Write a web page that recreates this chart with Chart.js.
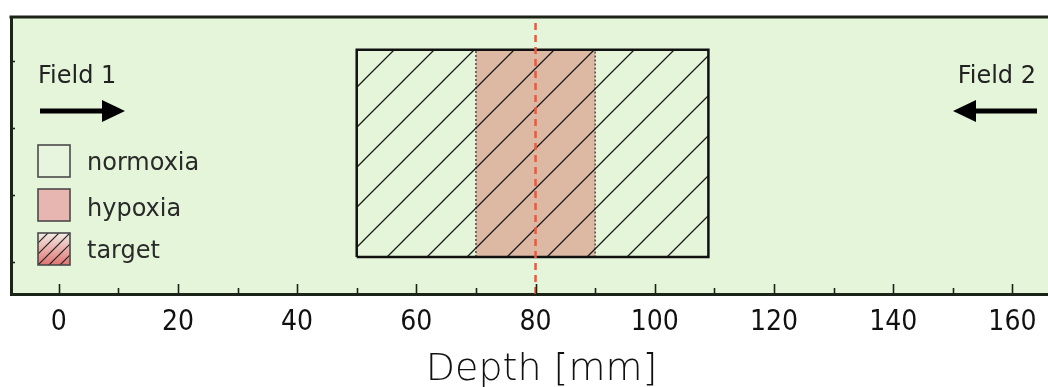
<!DOCTYPE html>
<html>
<head>
<meta charset="utf-8">
<script src="https://cdn.jsdelivr.net/npm/chart.js@4.4.0/dist/chart.umd.min.js"></script>
<style>
  html, body { margin: 0; padding: 0; background: #fff; overflow: hidden; }
  #wrap { width: 1048px; height: 387px; overflow: hidden; position: relative; }
  #box { position: absolute; left: 0; top: 0; width: 1072px; height: 387px; }
</style>
</head>
<body>
<div id="wrap"><div id="box"><canvas id="depthChart"></canvas></div></div>
<script>
// chart values
const depthRange = [-8, 170];
const heightRange = [0.52, 4.65];
const heightTicks = [1, 2, 3, 4];
const targetDepth = [50, 109];
const hypoxiaDepth = [70, 90];
const boxHeight = [1.07, 4.16];
const isocentreDepth = [80];
const fieldLabels = ['Field 1', 'Field 2'];
const legendLabels = ['normoxia', 'hypoxia', 'target'];
const axisTitle = 'Depth [mm]';

const bgGreen = '#e4f5d9';
const hypoxiaColor = '#ddb8a2';
const frameColor = '#1c2418';

// closed outline of a box in data units
function boxPoints(range) {
    return [
        { x: range[0], y: boxHeight[0] },
        { x: range[0], y: boxHeight[1] },
        { x: range[1], y: boxHeight[1] },
        { x: range[1], y: boxHeight[0] },
        { x: range[0], y: boxHeight[0] }
    ];
}

// diagonal hatch pattern
function makeHatch(size, width, color) {
    const c = document.createElement('canvas');
    c.width = size; c.height = size;
    const g = c.getContext('2d');
    g.strokeStyle = color;
    g.lineWidth = width;
    g.beginPath();
    g.moveTo(-2, size + 2); g.lineTo(size + 2, -2);
    g.moveTo(-2, 2); g.lineTo(2, -2);
    g.moveTo(size - 2, size + 2); g.lineTo(size + 2, size - 2);
    g.stroke();
    return c;
}

const ctx = document.getElementById('depthChart');
const hatchPattern = ctx.getContext('2d').createPattern(makeHatch(40, 1.3, '#1a1a1a'), 'repeat');
hatchPattern.setTransform(new DOMMatrix().translate(4, 0));

function drawArrow(c, tail, tip, y) {
    const dir = tip > tail ? 1 : -1;
    const headLen = 23, headHalf = 11;
    c.save();
    c.strokeStyle = '#000';
    c.fillStyle = '#000';
    c.lineWidth = 5;
    c.beginPath();
    c.moveTo(tail, y);
    c.lineTo(tip - dir * headLen, y);
    c.stroke();
    c.beginPath();
    c.moveTo(tip, y);
    c.lineTo(tip - dir * headLen, y - headHalf);
    c.lineTo(tip - dir * headLen, y + headHalf);
    c.closePath();
    c.fill();
    c.restore();
}

const framePlugin = {
    id: 'frame',
    beforeDraw(chart) {
        const { ctx: c, chartArea: a } = chart;
        c.save();
        c.fillStyle = bgGreen;
        c.fillRect(a.left, a.top, a.right - a.left, a.bottom - a.top);
        c.restore();
    },
    afterDraw(chart) {
        const { ctx: c, chartArea: a, scales } = chart;
        c.save();
        // top border
        c.strokeStyle = frameColor;
        c.lineWidth = 3;
        c.beginPath();
        c.moveTo(a.left - 1.5, a.top);
        c.lineTo(a.right, a.top);
        c.stroke();

        // inward tick marks
        c.lineWidth = 1.6;
        scales.x.ticks.forEach(t => {
            const px = Math.round(scales.x.getPixelForValue(t.value)) + 0.5;
            const len = t.value % 20 === 0 ? 10 : 6;
            c.beginPath();
            c.moveTo(px, a.bottom);
            c.lineTo(px, a.bottom - len);
            c.stroke();
        });
        scales.y.ticks.forEach(t => {
            const py = Math.round(scales.y.getPixelForValue(t.value)) + 0.5;
            c.beginPath();
            c.moveTo(a.left, py);
            c.lineTo(a.left + 4, py);
            c.stroke();
        });

        // field labels and arrows
        c.fillStyle = '#222';
        c.font = '24px "DejaVu Sans"';
        c.textBaseline = 'alphabetic';
        c.textAlign = 'left';
        c.fillText(fieldLabels[0], a.left + 27, a.top + 66);
        c.textAlign = 'right';
        c.fillText(fieldLabels[1], a.right - 36, a.top + 66);
        drawArrow(c, a.left + 29, a.left + 114, a.top + 94);
        drawArrow(c, a.right - 35, a.right - 119, a.top + 94);

        // legend
        const sx = a.left + 27, size = 32;
        const rows = [a.top + 128, a.top + 172, a.top + 216];
        c.lineWidth = 1.6;
        c.strokeStyle = '#4a4a4a';
        // normoxia
        c.fillStyle = '#e8f5de';
        c.fillRect(sx, rows[0], size, size);
        c.strokeRect(sx, rows[0], size, size);
        // hypoxia
        c.fillStyle = '#e8b6b0';
        c.fillRect(sx, rows[1], size, size);
        c.strokeRect(sx, rows[1], size, size);
        // target
        const grad = c.createLinearGradient(0, rows[2], 0, rows[2] + size);
        grad.addColorStop(0, '#f3ece6');
        grad.addColorStop(1, '#e07470');
        c.fillStyle = grad;
        c.fillRect(sx, rows[2], size, size);
        c.save();
        c.beginPath();
        c.rect(sx, rows[2], size, size);
        c.clip();
        c.strokeStyle = '#222';
        c.lineWidth = 1.2;
        for (let k = -2; k <= 2; k++) {
            const off = k * 11;
            c.beginPath();
            c.moveTo(sx + off - 4, rows[2] + size + 4);
            c.lineTo(sx + off + size + 4, rows[2] - 4);
            c.stroke();
        }
        c.restore();
        c.strokeRect(sx, rows[2], size, size);

        c.fillStyle = '#2a2a2a';
        c.font = '24px "DejaVu Sans"';
        c.textAlign = 'left';
        legendLabels.forEach((txt, i) => {
            c.fillText(txt, sx + 49, rows[i] + [25, 27, 25][i]);
        });
        c.restore();
    }
};

new Chart(ctx, {
    type: 'scatter',
    data: {
        datasets: [
            {
                label: 'isocentre',
                data: isocentreDepth.flatMap(d => [{ x: d, y: heightRange[0] }, { x: d, y: heightRange[1] }, { x: NaN, y: NaN }]),
                showLine: true,
                borderColor: '#f2553c',
                borderWidth: 2.5,
                borderDash: [7, 5],
                pointRadius: 0,
                fill: false,
                order: 1
            },
            {
                label: 'target',
                data: boxPoints(targetDepth),
                showLine: true,
                borderColor: '#111',
                borderWidth: 2.5,
                backgroundColor: hatchPattern,
                fill: 'shape',
                pointRadius: 0,
                order: 2
            },
            {
                label: 'hypoxia',
                data: boxPoints(hypoxiaDepth),
                showLine: true,
                borderColor: '#333',
                borderWidth: 1.3,
                borderDash: [2, 2],
                backgroundColor: hypoxiaColor,
                fill: 'shape',
                pointRadius: 0,
                order: 3
            }
        ]
    },
    options: {
        animation: false,
        responsive: true,
        maintainAspectRatio: false,
        layout: { padding: { left: 11, top: 17, right: 0, bottom: 0 } },
        plugins: { legend: { display: false }, tooltip: { enabled: false } },
        scales: {
            x: {
                type: 'linear',
                min: depthRange[0],
                max: depthRange[1],
                afterFit: s => { s.height = 93; s.paddingLeft = 0; s.paddingRight = 0; },
                ticks: {
                    stepSize: 10,
                    includeBounds: false,
                    autoSkip: false,
                    maxRotation: 0,
                    padding: 12,
                    color: '#111',
                    font: { family: '"DejaVu Sans Condensed", "DejaVu Sans"', size: 28 },
                    callback: v => (v % 20 === 0 && v <= 160 ? String(v) : '')
                },
                grid: { display: false, drawTicks: false },
                border: { display: true, width: 3, color: frameColor },
                title: {
                    display: true,
                    text: axisTitle,
                    color: '#111',
                    font: { family: '"DejaVu Sans"', size: 38, weight: '300', lineHeight: 0.9 },
                    padding: { top: 0, bottom: 0 }
                }
            },
            y: {
                type: 'linear',
                min: heightRange[0],
                max: heightRange[1],
                afterFit: s => { s.width = 0; },
                afterBuildTicks: s => { s.ticks = heightTicks.map(v => ({ value: v })); },
                ticks: { display: false },
                grid: { display: false, drawTicks: false },
                border: { display: true, width: 3, color: frameColor }
            }
        }
    },
    plugins: [framePlugin]
});
</script>
</body>
</html>
